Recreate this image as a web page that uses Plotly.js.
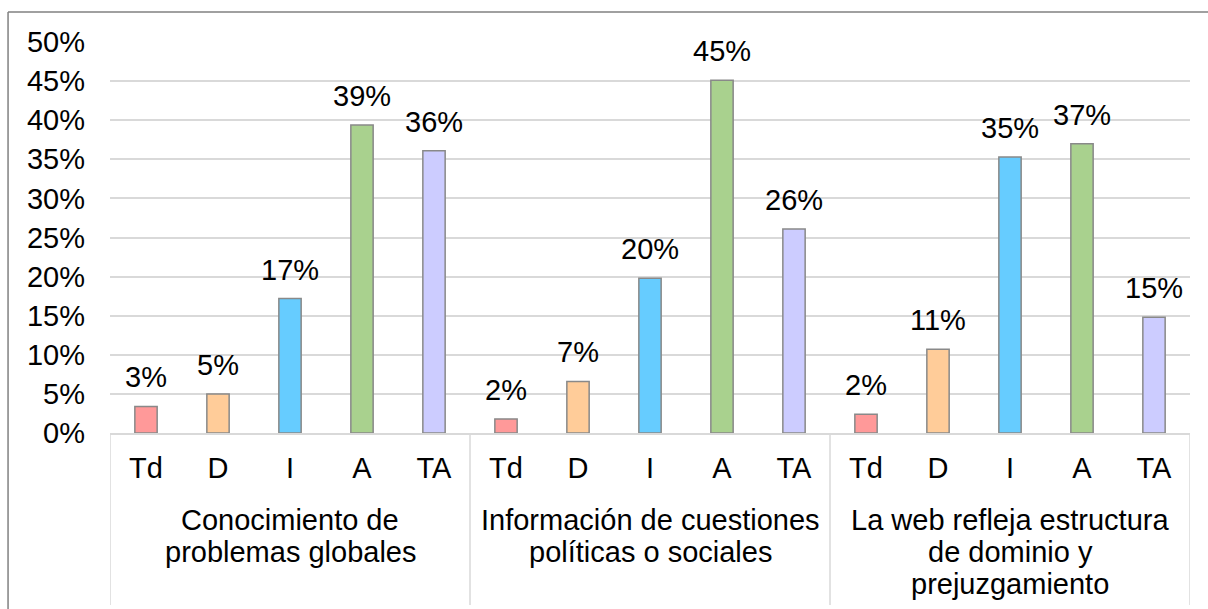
<!DOCTYPE html>
<html><head><meta charset="utf-8">
<script src="https://cdn.plot.ly/plotly-3.0.1.min.js"></script>
<style>html,body{margin:0;padding:0;background:#fff}#chart{width:1208px;height:609px}</style>
</head><body><div id="chart"></div>
<script>
// ---- data ----
const categories = ["Td", "D", "I", "A", "TA"];
const groups = [
  "Conocimiento de<br>problemas globales",
  "Información de cuestiones<br>políticas o sociales",
  "La web refleja estructura<br>de dominio y<br>prejuzgamiento"
];
const conocimiento = [0.034, 0.050, 0.172, 0.394, 0.361];
const informacion  = [0.018, 0.066, 0.198, 0.451, 0.261];
const laWeb        = [0.024, 0.107, 0.353, 0.370, 0.148];
const categoryColors = ["#FF9999", "#FFCC99", "#66CCFF", "#A9D18E", "#CCCCFF"];
const yTicks = [0, 0.05, 0.10, 0.15, 0.20, 0.25, 0.30, 0.35, 0.40, 0.45, 0.50];

// ---- build ----
const series = [conocimiento, informacion, laWeb];
const xs = [], ys = [], cols = [], tickText = [];
series.forEach((vals, g) => {
  vals.forEach((v, k) => {
    xs.push(g * categories.length + k);
    ys.push(v);
    cols.push(categoryColors[k]);
    tickText.push(categories[k]);
  });
});

const FONT = "Liberation Sans, Arial, sans-serif";
const FS = 29;

const trace = {
  type: "bar",
  x: xs,
  y: ys,
  marker: { color: cols, line: { color: "#898989", width: 1.5 } },
  hoverinfo: "skip"
};

const annotations = [];
xs.forEach((x, i) => {
  annotations.push({
    x: x, y: ys[i], xref: "x", yref: "y",
    text: Math.round(ys[i] * 100) + "%",
    showarrow: false, yanchor: "bottom", xanchor: "center",
    yshift: 11,
    font: { family: FONT, size: FS, color: "#000" }
  });
});
const lineShifts = [-87, -119, -151];
groups.forEach((label, g) => {
  const center = g * categories.length + (categories.length - 1) / 2;
  label.split("<br>").forEach((line, j) => {
    annotations.push({
      x: center, y: 0, xref: "x", yref: "paper",
      text: line, showarrow: false, xanchor: "center", yanchor: "middle",
      yshift: lineShifts[j],
      font: { family: FONT, size: FS, color: "#000" }
    });
  });
});

const shapes = [];
for (let g = 0; g <= groups.length; g++) {
  const xv = g * categories.length - 0.5;
  shapes.push({
    type: "line", xref: "x", yref: "paper",
    x0: xv, x1: xv, y0: 0, y1: -0.44,
    line: { color: "#d9d9d9", width: 1.5 }
  });
}
// outer chart border (left + top; right/bottom fall outside the picture)
shapes.push({ type: "line", xref: "paper", yref: "paper",
  x0: -0.0944, x1: -0.0944, y0: 1.0767, y1: -0.46,
  line: { color: "#808080", width: 1.5 } });
shapes.push({ type: "line", xref: "paper", yref: "paper",
  x0: -0.0944, x1: 1.02, y0: 1.0767, y1: 1.0767,
  line: { color: "#808080", width: 1.5 } });

const layout = {
  width: 1208, height: 609,
  margin: { l: 110, r: 18, t: 42, b: 176 },
  paper_bgcolor: "#fff", plot_bgcolor: "#fff",
  showlegend: false,
  bargap: 0.69,
  font: { family: FONT, size: FS, color: "#000" },
  xaxis: {
    range: [-0.5, xs.length - 0.5],
    tickmode: "array", tickvals: xs, ticktext: tickText,
    showgrid: false, zeroline: false,
    showline: true, linecolor: "#d9d9d9", linewidth: 1.5,
    ticks: "", ticklabelstandoff: 9,
    tickfont: { family: FONT, size: FS, color: "#000" },
    fixedrange: true
  },
  yaxis: {
    range: [0, 0.5],
    tickmode: "array", tickvals: yTicks, tickformat: ".0%",
    showgrid: true, gridcolor: "#d9d9d9", gridwidth: 2,
    zeroline: false, showline: false, ticks: "",
    ticklabelstandoff: 24,
    tickfont: { family: FONT, size: FS, color: "#000" },
    fixedrange: true
  },
  annotations: annotations,
  shapes: shapes
};

Plotly.newPlot("chart", [trace], layout, { displayModeBar: false, staticPlot: true });
</script>
</body></html>
